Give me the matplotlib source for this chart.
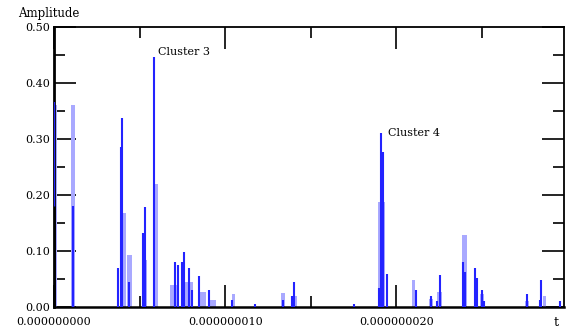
import numpy as np
import matplotlib
matplotlib.use("Agg")
import matplotlib.pyplot as plt
from matplotlib.ticker import MultipleLocator, FuncFormatter

# time in ns, amplitude
dark_t = [0.00, 1.11, 3.74, 3.92, 3.98, 4.39, 5.20, 5.32, 5.85, 7.08, 7.25, 7.49,
          7.60, 7.89, 8.07, 8.48, 9.06, 10.41, 11.75, 13.39, 13.92, 14.04, 17.54,
          19.01, 19.12, 19.24, 19.47, 21.17, 22.05, 22.40, 22.57, 23.92, 24.04,
          24.62, 24.74, 25.03, 25.15, 27.66, 28.42, 28.48, 29.59]
dark_amp = [0.366, 0.18, 0.07, 0.286, 0.337, 0.045, 0.132, 0.178, 0.446, 0.08, 0.075,
            0.08, 0.098, 0.07, 0.03, 0.055, 0.03, 0.012, 0.005, 0.012, 0.02, 0.045,
            0.005, 0.034, 0.31, 0.277, 0.059, 0.03, 0.02, 0.01, 0.057, 0.08, 0.063,
            0.07, 0.052, 0.03, 0.01, 0.024, 0.012, 0.048, 0.01]

light_t = [0.05, 1.11, 4.09, 4.39, 5.35, 5.96, 7.02, 7.86, 8.66, 9.24, 10.50, 13.39,
           14.04, 19.12, 21.02, 22.05, 22.51, 24.01, 24.68, 25.03, 27.66, 28.68]
light_w = [0.2, 0.23, 0.23, 0.29, 0.18, 0.18, 0.47, 0.53, 0.47, 0.47, 0.18, 0.23,
           0.29, 0.41, 0.18, 0.23, 0.29, 0.29, 0.23, 0.23, 0.23, 0.18]
light_amp = [0.36, 0.36, 0.168, 0.093, 0.084, 0.22, 0.04, 0.045, 0.027, 0.013, 0.024,
             0.025, 0.02, 0.187, 0.048, 0.015, 0.027, 0.128, 0.034, 0.024, 0.01, 0.02]

black_t = [0.0]
black_amp = [0.18]

labels = ["Cluster 3", "Cluster 4"]
label_t = [6.05, 19.5]
label_amp = [0.455, 0.31]

plt.rcParams["font.family"] = ["DejaVu Serif"]

fig = plt.figure(figsize=(5.69, 3.31), dpi=100)
ax = fig.add_axes([54 / 569, 24 / 331, 510 / 569, 280 / 331])

ax.bar(light_t, light_amp, width=light_w, color="#a9a9ff", zorder=2, linewidth=0)
ax.vlines(dark_t, 0, dark_amp, color="#2323ff", linewidth=1.5, zorder=3)
ax.vlines(black_t, 0, black_amp, color="black", linewidth=2, zorder=4)

for txt, tx, ty in zip(labels, label_t, label_amp):
    ax.text(tx, ty, txt, fontsize=8, ha="left", va="center")

ax.set_xlim(0, 29.8)
ax.set_ylim(0, 0.5)

ax.xaxis.set_major_locator(MultipleLocator(10))
ax.xaxis.set_minor_locator(MultipleLocator(5))
ax.yaxis.set_major_locator(MultipleLocator(0.1))
ax.yaxis.set_minor_locator(MultipleLocator(0.05))
ax.xaxis.set_major_formatter(FuncFormatter(lambda v, p: "%.9f" % (v * 1e-9)))
ax.yaxis.set_major_formatter(FuncFormatter(lambda v, p: "%.2f" % v))

ax.tick_params(which="both", direction="in", top=True, right=True,
               labelsize=8, width=1.2, pad=3)
ax.tick_params(axis="x", which="both", pad=7)
ax.tick_params(which="major", length=16)
ax.tick_params(which="minor", length=8)
for s in ax.spines.values():
    s.set_linewidth(1.3)
ax.spines["left"].set_linewidth(2)
ax.spines["bottom"].set_linewidth(1.8)

fig.text(18 / 569, 1 - 14 / 331, "Amplitude", fontsize=8.5, ha="left", va="center")
fig.text(556 / 569, 1 - 322 / 331, "t", fontsize=9, ha="center", va="center")

fig.savefig("out.png", dpi=100)
